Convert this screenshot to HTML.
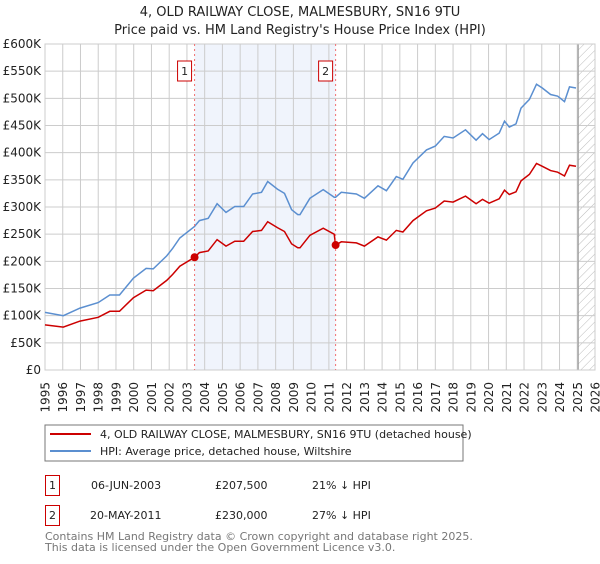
<!DOCTYPE html>
<html><head><meta charset="utf-8"><style>
body{margin:0;background:#fff;font-family:"DejaVu Sans","Liberation Sans",sans-serif;}
text{font-family:"DejaVu Sans","Liberation Sans",sans-serif;}
</style></head><body>
<svg id="chart" width="600" height="560" xmlns="http://www.w3.org/2000/svg">
<defs><pattern id="hatch" width="6" height="6" patternUnits="userSpaceOnUse" patternTransform="rotate(45)"><line x1="0" y1="0" x2="0" y2="6" stroke="#bbb" stroke-width="1"/></pattern></defs>
<text x="300" y="16" text-anchor="middle" font-size="13" fill="#222">4, OLD RAILWAY CLOSE, MALMESBURY, SN16 9TU</text>
<text x="300" y="34" text-anchor="middle" font-size="13" fill="#222">Price paid vs. HM Land Registry's House Price Index (HPI)</text>
<g id="plot"></g>
<g id="legend">
<rect x="45" y="425" width="418" height="36" fill="#fff" stroke="#777"/>
<line x1="50" y1="434" x2="91" y2="434" stroke="#cc0000" stroke-width="2"/>
<text x="100" y="438" font-size="11" fill="#222">4, OLD RAILWAY CLOSE, MALMESBURY, SN16 9TU (detached house)</text>
<line x1="50" y1="451" x2="91" y2="451" stroke="#5b8fd0" stroke-width="2"/>
<text x="100" y="455" font-size="11" fill="#222">HPI: Average price, detached house, Wiltshire</text>
</g>
<g font-size="11" fill="#222">
<rect x="45.5" y="475.5" width="14" height="20" fill="#fff" stroke="#cc0000"/>
<text x="52.5" y="489" text-anchor="middle">1</text>
<text x="91" y="489">06-JUN-2003</text>
<text x="215" y="489">£207,500</text>
<text x="312" y="489">21% ↓ HPI</text>
<rect x="45.5" y="505.5" width="14" height="20" fill="#fff" stroke="#cc0000"/>
<text x="52.5" y="519" text-anchor="middle">2</text>
<text x="90" y="519">20-MAY-2011</text>
<text x="215" y="519">£230,000</text>
<text x="312" y="519">27% ↓ HPI</text>
</g>
<text x="45" y="540" font-size="11" fill="#777">Contains HM Land Registry data © Crown copyright and database right 2025.</text>
<text x="45" y="551" font-size="11" fill="#777">This data is licensed under the Open Government Licence v3.0.</text>
</svg>
<script>
const hpiYears=[1995.0,1996.03,1996.97,1998.0,1998.65,1999.2,1999.98,2000.7,2001.1,2001.86,2002.2,2002.6,2003.42,2003.7,2004.2,2004.7,2005.2,2005.7,2006.2,2006.7,2007.2,2007.55,2008.1,2008.5,2008.9,2009.25,2009.37,2009.93,2010.68,2011.3,2011.38,2011.7,2012.55,2013.0,2013.77,2014.24,2014.8,2015.17,2015.74,2016.5,2017.0,2017.5,2018.0,2018.7,2019.3,2019.66,2020.03,2020.6,2020.9,2021.17,2021.55,2021.83,2022.3,2022.7,2023.03,2023.5,2023.9,2024.28,2024.56,2024.93];
const hpiValues=[106,100,114,124,138,138,169,187,186,210,224,243,264,275,279,306,290,301,301,324,327,347,333,325,295,286,286,316,332,318,318,327,324,316,339,330,356,351,381,405,412,430,427,442,423,435,424,436,458,447,453,482,498,526,519,507,504,494,521,519];
const priceYears=[1995.0,1996.03,1996.97,1998.0,1998.65,1999.2,1999.98,2000.7,2001.1,2001.86,2002.2,2002.6,2003.43,2003.7,2004.2,2004.7,2005.2,2005.7,2006.2,2006.7,2007.2,2007.55,2008.1,2008.5,2008.9,2009.25,2009.37,2009.93,2010.68,2011.3,2011.38,2011.7,2012.55,2013.0,2013.77,2014.24,2014.8,2015.17,2015.74,2016.5,2017.0,2017.5,2018.0,2018.7,2019.3,2019.66,2020.03,2020.6,2020.9,2021.17,2021.55,2021.83,2022.3,2022.7,2023.03,2023.5,2023.9,2024.28,2024.56,2024.93];
const priceValues=[83,79,90,97,108,108,133,147,146,165,176,191,207.5,216,219,240,228,237,237,255,257,273,262,255,232,225,225,248,261,250,230,236,234,228,245,239,257,254,275,293,298,311,309,320,306,314,307,315,331,323,328,348,360,380,375,367,364,357,377,375];
const saleYears=[2003.43,2011.38];
const saleValues=[207.5,230];
const saleLabels=["1","2"];
const yTicks=[0,50,100,150,200,250,300,350,400,450,500,550,600];
const yTickLabels=["£0","£50K","£100K","£150K","£200K","£250K","£300K","£350K","£400K","£450K","£500K","£550K","£600K"];
const xTicks=[1995,1996,1997,1998,1999,2000,2001,2002,2003,2004,2005,2006,2007,2008,2009,2010,2011,2012,2013,2014,2015,2016,2017,2018,2019,2020,2021,2022,2023,2024,2025,2026];
const dataEnd=2025.05;

const L=45,R=595,T=44,B=370;
const xs=y=>L+(y-1995)/(2026-1995)*(R-L);
const ys=v=>B-v/600*(B-T);
const NS="http://www.w3.org/2000/svg";
const g=document.getElementById('plot');
function mk(tag,attrs,parent){const e=document.createElementNS(NS,tag);for(const k in attrs)e.setAttribute(k,attrs[k]);(parent||g).appendChild(e);return e;}

let e=mk('rect',{x:xs(saleYears[0]),y:T,width:xs(saleYears[1])-xs(saleYears[0]),height:B-T,fill:'#f0f4fc'});


e=mk('rect',{x:xs(dataEnd),y:T,width:R-xs(dataEnd),height:B-T,fill:'url(#hatch)'});



yTicks.forEach((t,i)=>{
  e=mk('line',{x1:L,x2:R,y1:ys(t),y2:ys(t),stroke:'#cccccc','stroke-width':1});
  
  
  e=mk('text',{x:L-4,y:ys(t)+4,'text-anchor':'end','font-size':12,fill:'#222'});
  e.textContent=yTickLabels[i];
  
  
});
xTicks.forEach(t=>{
  e=mk('line',{x1:xs(t),x2:xs(t),y1:T,y2:B,stroke:'#cccccc','stroke-width':1});
  
  
  const tx=xs(t)+4.5,ty=382;
  e=mk('text',{x:tx,y:ty,'text-anchor':'end','font-size':12,fill:'#222',transform:'rotate(-90 '+tx+' '+ty+')'});
  e.textContent=t;
  
  
});
e=mk('line',{x1:xs(dataEnd),x2:xs(dataEnd),y1:T,y2:B,stroke:'#999','stroke-width':1.2});


e=mk('rect',{x:L,y:T,width:R-L,height:B-T,fill:'none',stroke:'#cccccc'});



function path(xa,va){return xa.map((x,i)=>(i?'L':'M')+xs(x).toFixed(1)+','+ys(va[i]).toFixed(1)).join('');}
e=mk('path',{d:path(hpiYears,hpiValues),fill:'none',stroke:'#5b8fd0','stroke-width':1.5});


e=mk('path',{d:path(priceYears,priceValues),fill:'none',stroke:'#cc0000','stroke-width':1.5});



saleYears.forEach((y,i)=>{
  e=mk('line',{x1:xs(y),x2:xs(y),y1:T,y2:B,stroke:'#f07070','stroke-width':1,'stroke-dasharray':'2,3'});
  
  
  e=mk('circle',{cx:xs(y),cy:ys(saleValues[i]),r:4,fill:'#cc0000'});
  
  
  e=mk('rect',{x:xs(y)-17,y:61,width:14,height:20,fill:'#fff',stroke:'#cc0000'});
  
  
  e=mk('text',{x:xs(y)-10,y:75,'text-anchor':'middle','font-size':11,fill:'#222'});
  e.textContent=saleLabels[i];
  
  
});
</script>
</body></html>
